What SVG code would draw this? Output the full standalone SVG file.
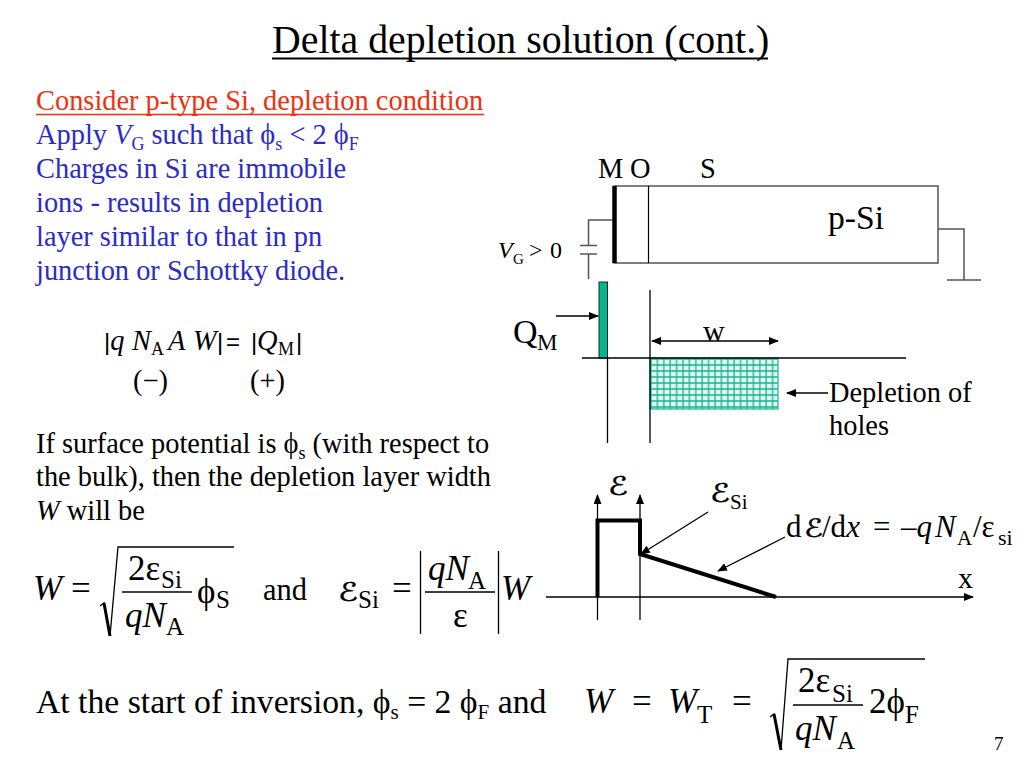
<svg xmlns="http://www.w3.org/2000/svg" width="1024" height="768" viewBox="0 0 1024 768">
<style>
text{font-family:"Liberation Serif","Times New Roman",serif;fill:#000;white-space:pre}
.b{font-size:28.400px}.bl{fill:#2b2bc8;font-size:28.400px}.i{font-style:italic}
.s{font-size:18px}.m{font-size:35px}.u{font-size:25px}
.sa{font-family:"Liberation Sans",sans-serif}
.l{stroke:#000;stroke-width:1.300;fill:none}.g{stroke:#555;stroke-width:1.500;fill:none}
.t{stroke:#000;stroke-width:4;fill:none}
.script{font-family:"DejaVu Serif","DejaVu Sans",serif;font-style:italic;stroke:#000;stroke-width:.4}
</style>
<defs>
<marker id="a" markerWidth="10" markerHeight="8" refX="9" refY="4" orient="auto-start-reverse" markerUnits="userSpaceOnUse"><path d="M0,0L10,4L0,8z" fill="#000"/></marker>
<pattern id="h" width="6.400" height="6" patternUnits="userSpaceOnUse" x="650" y="358"><rect width="6.400" height="6" fill="#e6f6f0"/><path d="M1,0V6M0,1H6.400" stroke="#10b890" stroke-width="1.300"/></pattern>
</defs>
<rect width="1024" height="768" fill="#fff"/>
<g id="title"><text x="272" y="53" font-size="39.800">Delta depletion solution (cont.)</text><path d="M272,58.500H768" stroke="#000" stroke-width="2"/></g>
<g id="intro">
<text x="36" y="110" class="b" style="fill:#f03010">Consider p-type Si, depletion condition</text><path d="M36,114.500H484" stroke="#f03010" stroke-width="1.500"/>
<text x="36" y="144" class="bl">Apply <tspan class="i">V</tspan><tspan class="s" dy="6">G</tspan><tspan dy="-6"> such that ϕ</tspan><tspan class="s" dy="6">s</tspan><tspan dy="-6"> &lt; 2 ϕ</tspan><tspan class="s" dy="6">F</tspan></text>
<text x="36" y="178" class="bl">Charges in Si are immobile</text>
<text x="36" y="212" class="bl">ions - results in depletion</text>
<text x="36" y="246" class="bl">layer similar to that in pn</text>
<text x="36" y="280" class="bl">junction or Schottky diode.</text>
</g>
<g id="charge-eq">
<text x="104" y="350" class="b"><tspan class="sa" font-size="24">|</tspan><tspan class="i">q</tspan><tspan class="i" x="132">N</tspan><tspan class="s" x="151" y="355">A</tspan><tspan class="i" x="168" y="350">A</tspan><tspan class="i" x="193">W</tspan><tspan class="sa" font-size="24" x="217">|</tspan><tspan class="sa" font-size="24" x="226">=</tspan><tspan class="sa" font-size="24" x="251">|</tspan><tspan class="i" x="257">Q</tspan><tspan class="s" x="278" y="355">M</tspan><tspan class="sa" font-size="24" x="296" y="350">|</tspan></text>
<text x="133" y="390" class="b">(−)</text><text x="250" y="390" class="b">(+)</text>
</g>
<g id="surface">
<text x="36" y="453" class="b">If surface potential is ϕ<tspan class="s" dy="6">s</tspan><tspan dy="-6"> (with respect to</tspan></text>
<text x="36" y="486" class="b">the bulk), then the depletion layer width</text>
<text x="36" y="520" class="b"><tspan class="i">W</tspan> will be</text>
</g>
<g id="eq-w">
<text x="33" y="600" class="m i">W</text><text x="71" y="600" class="m">=</text>
<path d="M100,606L104,603L110,636L118,547H234" class="l"/><path d="M104,603L110,636" stroke="#000" stroke-width="3" fill="none"/>
<path d="M122,592H192" class="l"/>
<text x="128" y="580" class="m">2ε</text><text x="161" y="588" class="u">Si</text>
<text x="125" y="627" class="m i">qN</text><text x="166" y="635" class="u">A</text>
<text x="197" y="603" class="m">ϕ</text><text x="216" y="608" class="u">S</text>
<text x="263" y="600" font-size="30.500">and</text>
</g>
<g id="eq-e">
<text x="338" y="601" font-size="26" class="script" textLength="20" lengthAdjust="spacingAndGlyphs">ℰ</text><text x="358" y="608" class="u">Si</text>
<text x="392" y="600" class="m">=</text>
<path d="M420.500,551V634M498.500,551V634M425,592H495" class="l"/>
<text x="428" y="580" class="m i">qN</text><text x="468" y="589" class="u">A</text>
<text x="453" y="627" class="m">ε</text>
<text x="501" y="600" class="m i">W</text>
</g>
<g id="inversion">
<text x="36" y="713" font-size="33.700">At the start of inversion, ϕ<tspan font-size="21" dy="6">s</tspan><tspan dy="-6"> = 2 ϕ</tspan><tspan font-size="21" dy="6">F</tspan><tspan dy="-6"> and</tspan></text>
<text x="584" y="713" class="m i">W</text><text x="632" y="713" class="m">=</text><text x="668" y="713" class="m i">W</text><text x="697" y="723" class="u">T</text><text x="732" y="713" class="m">=</text>
<path d="M770,717L774,714L781,750L788,659H925" class="l"/><path d="M774,714L781,750" stroke="#000" stroke-width="3" fill="none"/>
<path d="M793,705H863" class="l"/>
<text x="798" y="692" class="m">2ε</text><text x="832" y="702" class="u">Si</text>
<text x="795" y="740" class="m i">qN</text><text x="837" y="749" class="u">A</text>
<text x="869" y="713" class="m">2ϕ</text><text x="905" y="723" class="u">F</text>
</g>
<text id="page" x="994" y="750" font-size="19">7</text>
<g id="mos-labels">
<text x="598" y="178" class="b">M</text><text x="630" y="178" class="b">O</text><text x="700" y="178" class="b">S</text>
<text x="828" y="229" font-size="33.600">p-Si</text>
<text x="498" y="258" font-size="24"><tspan class="i">V</tspan><tspan font-size="15" x="513" y="264">G</tspan><tspan x="529" y="258">&gt;</tspan><tspan x="550">0</tspan></text>
<text x="513" y="343" font-size="34">Q</text><text x="537" y="350" font-size="23">M</text>
<text x="703" y="341" font-size="30">w</text>
<text x="829" y="402" class="b">Depletion of</text><text x="829" y="435" class="b">holes</text>
</g>
<g id="field-labels">
<text x="608" y="495" font-size="26" class="script" textLength="20" lengthAdjust="spacingAndGlyphs">ℰ</text>
<text x="710" y="502" font-size="26" class="script" textLength="20" lengthAdjust="spacingAndGlyphs">ℰ</text><text x="730" y="509" font-size="21">Si</text>
<text x="786" y="537" font-size="31">d</text><text x="804" y="537" font-size="25" class="script" textLength="19" lengthAdjust="spacingAndGlyphs">ℰ</text><text x="822" y="537" font-size="31">/d<tspan class="i">x</tspan></text><text x="873" y="537" font-size="31">=</text><text x="901" y="537" font-size="31">–<tspan class="i">q</tspan></text><text x="935" y="537" font-size="31" class="i">N</text><text x="957" y="545" font-size="21">A</text><text x="973" y="537" font-size="31">/ε</text><text x="998" y="545" font-size="22">si</text>
<text x="958" y="588" font-size="30">x</text>
</g>
<g id="mos-device">
<rect x="614" y="186" width="324" height="77" class="g"/>
<path d="M614.500,186V263" stroke="#000" stroke-width="4.500"/>
<path d="M648.500,186V263" stroke="#000" stroke-width="1.200"/>
</g>
<g id="charge-plot">
<rect x="599" y="282" width="8.500" height="76" fill="#00b88c" stroke="#222" stroke-width="1"/>
<rect x="650" y="358" width="128" height="51" fill="url(#h)" stroke="#10b890" stroke-width="1.200"/>
</g>
<g id="connectors">
<path d="M612,220H588.500V245M580,245.500H597M580,254H597M588.500,254V279M938,229H964V280M947,280H981" class="g"/>
<path d="M607.500,358V443M650,290V443M582,358H906" class="l"/>
<path d="M652,341H778" class="l" marker-start="url(#a)" marker-end="url(#a)"/>
<path d="M556,316H598" class="l" marker-end="url(#a)"/>
<path d="M828,393H787" class="l" marker-end="url(#a)"/>
<path d="M597.500,620V495" class="l" marker-end="url(#a)"/>
<path d="M640,620V495" class="l" marker-end="url(#a)"/>
<path d="M546,597H973" class="l" marker-end="url(#a)"/>
<path d="M708,512L641,554" class="l" marker-end="url(#a)"/>
<path d="M785,537L718,571" class="l" marker-end="url(#a)"/>
<path d="M597.500,597V520.500H640V554L776,597" class="t"/>
</g>
</svg>
